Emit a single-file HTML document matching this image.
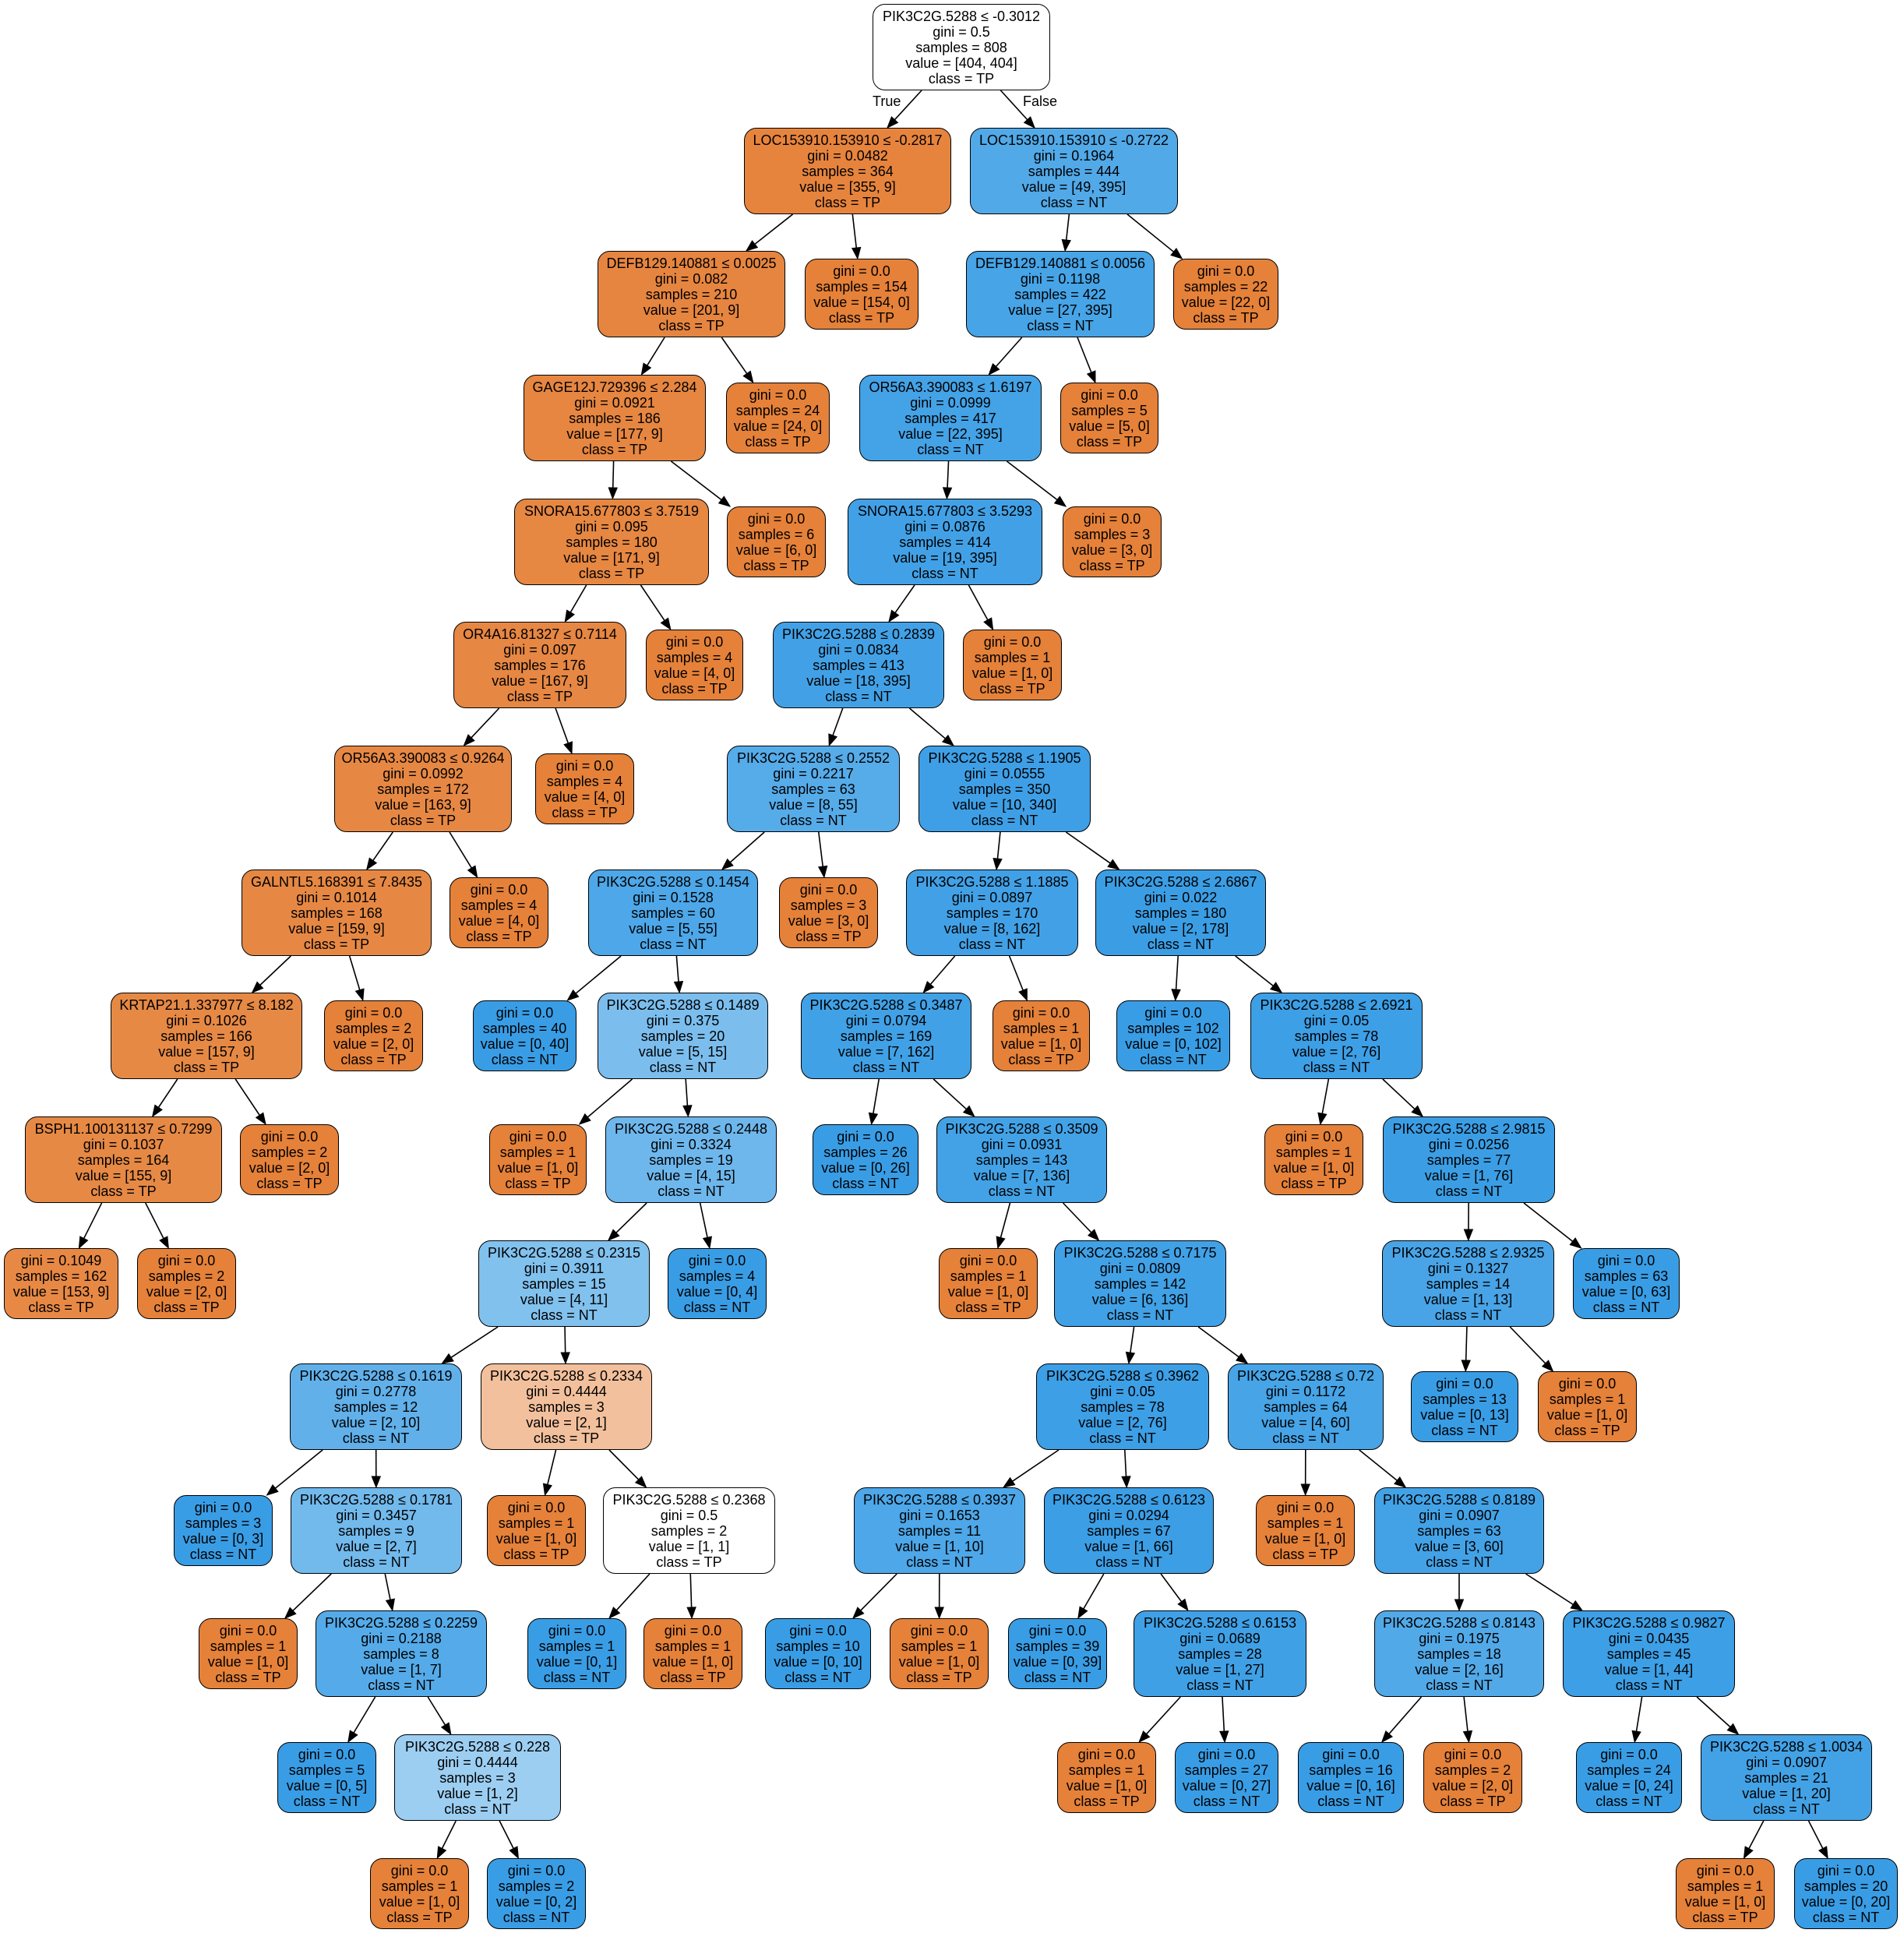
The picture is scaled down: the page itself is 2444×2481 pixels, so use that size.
<!DOCTYPE html>
<html><head><meta charset="utf-8">
<style>
html,body{margin:0;padding:0;background:#fff;}
body{width:2444px;height:2481px;position:relative;overflow:hidden;font-family:"Liberation Sans",Arial,sans-serif;}
.n{position:absolute;box-sizing:border-box;border:1.6px solid #000;border-radius:16px;text-align:center;font-size:18px;line-height:20px;padding-top:5px;color:#000;white-space:nowrap;height:111px;}
.l{height:91px;}
.o{background:#e58139;}
.b{background:#399de5;}
.lab{position:absolute;font-size:18px;line-height:20px;}
svg{position:absolute;left:0;top:0;}
</style></head><body>
<svg id="sv" width="2444" height="2481"></svg>
<div class="lab" style="left:1120px;top:120px">True</div>
<div class="lab" style="left:1313px;top:120px">False</div>

<div class="n" id="r" style="left:1120px;top:5px;width:228px;background:#fff">PIK3C2G.5288 ≤ -0.3012<br>gini = 0.5<br>samples = 808<br>value = [404, 404]<br>class = TP</div>

<div class="n" id="a1" style="left:955px;top:164px;width:266px;background:#e6843e">LOC153910.153910 ≤ -0.2817<br>gini = 0.0482<br>samples = 364<br>value = [355, 9]<br>class = TP</div>
<div class="n" id="b1" style="left:1245px;top:164px;width:267px;background:#52a9e8">LOC153910.153910 ≤ -0.2722<br>gini = 0.1964<br>samples = 444<br>value = [49, 395]<br>class = NT</div>

<div class="n" id="a2" style="left:767px;top:322px;width:241px;background:#e68540">DEFB129.140881 ≤ 0.0025<br>gini = 0.082<br>samples = 210<br>value = [201, 9]<br>class = TP</div>
<div class="n l o" id="a2l" style="left:1033px;top:332px;width:146px">gini = 0.0<br>samples = 154<br>value = [154, 0]<br>class = TP</div>
<div class="n" id="b2" style="left:1240px;top:322px;width:242px;background:#46a4e7">DEFB129.140881 ≤ 0.0056<br>gini = 0.1198<br>samples = 422<br>value = [27, 395]<br>class = NT</div>
<div class="n l o" id="b2l" style="left:1506px;top:332px;width:135px">gini = 0.0<br>samples = 22<br>value = [22, 0]<br>class = TP</div>

<div class="n" id="a3" style="left:672px;top:481px;width:234px;background:#e68641">GAGE12J.729396 ≤ 2.284<br>gini = 0.0921<br>samples = 186<br>value = [177, 9]<br>class = TP</div>
<div class="n l o" id="a3l" style="left:932px;top:491px;width:133px">gini = 0.0<br>samples = 24<br>value = [24, 0]<br>class = TP</div>
<div class="n" id="b3" style="left:1103px;top:481px;width:234px;background:#44a2e6">OR56A3.390083 ≤ 1.6197<br>gini = 0.0999<br>samples = 417<br>value = [22, 395]<br>class = NT</div>
<div class="n l o" id="b3l" style="left:1361px;top:491px;width:126px">gini = 0.0<br>samples = 5<br>value = [5, 0]<br>class = TP</div>

<div class="n" id="a4" style="left:660px;top:640px;width:250px;background:#e68742">SNORA15.677803 ≤ 3.7519<br>gini = 0.095<br>samples = 180<br>value = [171, 9]<br>class = TP</div>
<div class="n l o" id="a4l" style="left:933px;top:650px;width:127px">gini = 0.0<br>samples = 6<br>value = [6, 0]<br>class = TP</div>
<div class="n" id="b4" style="left:1088px;top:640px;width:250px;background:#42a1e6">SNORA15.677803 ≤ 3.5293<br>gini = 0.0876<br>samples = 414<br>value = [19, 395]<br>class = NT</div>
<div class="n l o" id="b4l" style="left:1364px;top:650px;width:127px">gini = 0.0<br>samples = 3<br>value = [3, 0]<br>class = TP</div>

<div class="n" id="a5" style="left:582px;top:798px;width:222px;background:#e68743">OR4A16.81327 ≤ 0.7114<br>gini = 0.097<br>samples = 176<br>value = [167, 9]<br>class = TP</div>
<div class="n l o" id="a5l" style="left:829px;top:808px;width:125px">gini = 0.0<br>samples = 4<br>value = [4, 0]<br>class = TP</div>
<div class="n" id="b5" style="left:992px;top:798px;width:220px;background:#42a1e6">PIK3C2G.5288 ≤ 0.2839<br>gini = 0.0834<br>samples = 413<br>value = [18, 395]<br>class = NT</div>
<div class="n l o" id="b5l" style="left:1236px;top:808px;width:127px">gini = 0.0<br>samples = 1<br>value = [1, 0]<br>class = TP</div>

<div class="n" id="a6" style="left:429px;top:957px;width:228px;background:#e68844">OR56A3.390083 ≤ 0.9264<br>gini = 0.0992<br>samples = 172<br>value = [163, 9]<br>class = TP</div>
<div class="n l o" id="a6l" style="left:687px;top:967px;width:127px">gini = 0.0<br>samples = 4<br>value = [4, 0]<br>class = TP</div>
<div class="n" id="c6" style="left:933px;top:957px;width:222px;background:#56abe9">PIK3C2G.5288 ≤ 0.2552<br>gini = 0.2217<br>samples = 63<br>value = [8, 55]<br>class = NT</div>
<div class="n" id="d6" style="left:1179px;top:957px;width:221px;background:#3e9fe6">PIK3C2G.5288 ≤ 1.1905<br>gini = 0.0555<br>samples = 350<br>value = [10, 340]<br>class = NT</div>

<div class="n" id="a7" style="left:310px;top:1116px;width:244px;background:#e68844">GALNTL5.168391 ≤ 7.8435<br>gini = 0.1014<br>samples = 168<br>value = [159, 9]<br>class = TP</div>
<div class="n l o" id="a7l" style="left:577px;top:1126px;width:127px">gini = 0.0<br>samples = 4<br>value = [4, 0]<br>class = TP</div>
<div class="n" id="c7" style="left:755px;top:1116px;width:218px;background:#4da7e8">PIK3C2G.5288 ≤ 0.1454<br>gini = 0.1528<br>samples = 60<br>value = [5, 55]<br>class = NT</div>
<div class="n l o" id="c7l" style="left:1000px;top:1126px;width:127px">gini = 0.0<br>samples = 3<br>value = [3, 0]<br>class = TP</div>
<div class="n" id="d7" style="left:1163px;top:1116px;width:221px;background:#42a1e6">PIK3C2G.5288 ≤ 1.1885<br>gini = 0.0897<br>samples = 170<br>value = [8, 162]<br>class = NT</div>
<div class="n" id="f7" style="left:1406px;top:1116px;width:219px;background:#3b9ee5">PIK3C2G.5288 ≤ 2.6867<br>gini = 0.022<br>samples = 180<br>value = [2, 178]<br>class = NT</div>

<div class="n" id="a8" style="left:142px;top:1274px;width:246px;background:#e68945">KRTAP21.1.337977 ≤ 8.182<br>gini = 0.1026<br>samples = 166<br>value = [157, 9]<br>class = TP</div>
<div class="n l o" id="a8l" style="left:416px;top:1284px;width:127px">gini = 0.0<br>samples = 2<br>value = [2, 0]<br>class = TP</div>
<div class="n l b" id="c8l" style="left:607px;top:1284px;width:133px">gini = 0.0<br>samples = 40<br>value = [0, 40]<br>class = NT</div>
<div class="n" id="c8" style="left:767px;top:1274px;width:219px;background:#7bbeee">PIK3C2G.5288 ≤ 0.1489<br>gini = 0.375<br>samples = 20<br>value = [5, 15]<br>class = NT</div>
<div class="n" id="d8" style="left:1028px;top:1274px;width:219px;background:#41a1e6">PIK3C2G.5288 ≤ 0.3487<br>gini = 0.0794<br>samples = 169<br>value = [7, 162]<br>class = NT</div>
<div class="n l o" id="d8l" style="left:1274px;top:1284px;width:125px">gini = 0.0<br>samples = 1<br>value = [1, 0]<br>class = TP</div>
<div class="n l b" id="f8l" style="left:1433px;top:1284px;width:146px">gini = 0.0<br>samples = 102<br>value = [0, 102]<br>class = NT</div>
<div class="n" id="f8" style="left:1605px;top:1274px;width:221px;background:#3d9fe6">PIK3C2G.5288 ≤ 2.6921<br>gini = 0.05<br>samples = 78<br>value = [2, 76]<br>class = NT</div>

<div class="n" id="a9" style="left:32px;top:1433px;width:253px;background:#e68945">BSPH1.100131137 ≤ 0.7299<br>gini = 0.1037<br>samples = 164<br>value = [155, 9]<br>class = TP</div>
<div class="n l o" id="a9l" style="left:308px;top:1443px;width:127px">gini = 0.0<br>samples = 2<br>value = [2, 0]<br>class = TP</div>
<div class="n l o" id="c9l" style="left:628px;top:1443px;width:125px">gini = 0.0<br>samples = 1<br>value = [1, 0]<br>class = TP</div>
<div class="n" id="c9" style="left:777px;top:1433px;width:220px;background:#6eb7ec">PIK3C2G.5288 ≤ 0.2448<br>gini = 0.3324<br>samples = 19<br>value = [4, 15]<br>class = NT</div>
<div class="n l b" id="d9l" style="left:1043px;top:1443px;width:136px">gini = 0.0<br>samples = 26<br>value = [0, 26]<br>class = NT</div>
<div class="n" id="d9" style="left:1202px;top:1433px;width:219px;background:#43a2e6">PIK3C2G.5288 ≤ 0.3509<br>gini = 0.0931<br>samples = 143<br>value = [7, 136]<br>class = NT</div>
<div class="n l o" id="f9l" style="left:1623px;top:1443px;width:127px">gini = 0.0<br>samples = 1<br>value = [1, 0]<br>class = TP</div>
<div class="n" id="f9" style="left:1775px;top:1433px;width:221px;background:#3b9ee5">PIK3C2G.5288 ≤ 2.9815<br>gini = 0.0256<br>samples = 77<br>value = [1, 76]<br>class = NT</div>

<div class="n l" id="a10a" style="left:5px;top:1602px;width:147px;background:#e78945">gini = 0.1049<br>samples = 162<br>value = [153, 9]<br>class = TP</div>
<div class="n l o" id="a10b" style="left:176px;top:1602px;width:127px">gini = 0.0<br>samples = 2<br>value = [2, 0]<br>class = TP</div>
<div class="n" id="c10" style="left:614px;top:1592px;width:220px;background:#81c1ee">PIK3C2G.5288 ≤ 0.2315<br>gini = 0.3911<br>samples = 15<br>value = [4, 11]<br>class = NT</div>
<div class="n l b" id="c10l" style="left:857px;top:1602px;width:127px">gini = 0.0<br>samples = 4<br>value = [0, 4]<br>class = NT</div>
<div class="n l o" id="d10l" style="left:1205px;top:1602px;width:127px">gini = 0.0<br>samples = 1<br>value = [1, 0]<br>class = TP</div>
<div class="n" id="d10" style="left:1353px;top:1592px;width:221px;background:#41a1e6">PIK3C2G.5288 ≤ 0.7175<br>gini = 0.0809<br>samples = 142<br>value = [6, 136]<br>class = NT</div>
<div class="n" id="f10" style="left:1774px;top:1592px;width:221px;background:#48a4e7">PIK3C2G.5288 ≤ 2.9325<br>gini = 0.1327<br>samples = 14<br>value = [1, 13]<br>class = NT</div>
<div class="n l b" id="f10l" style="left:2019px;top:1602px;width:137px">gini = 0.0<br>samples = 63<br>value = [0, 63]<br>class = NT</div>

<div class="n" id="c11" style="left:372px;top:1750px;width:221px;background:#61b0ea">PIK3C2G.5288 ≤ 0.1619<br>gini = 0.2778<br>samples = 12<br>value = [2, 10]<br>class = NT</div>
<div class="n" id="e11" style="left:617px;top:1750px;width:220px;background:#f2c09c">PIK3C2G.5288 ≤ 0.2334<br>gini = 0.4444<br>samples = 3<br>value = [2, 1]<br>class = TP</div>
<div class="n" id="d11" style="left:1330px;top:1750px;width:222px;background:#3d9fe6">PIK3C2G.5288 ≤ 0.3962<br>gini = 0.05<br>samples = 78<br>value = [2, 76]<br>class = NT</div>
<div class="n" id="g11" style="left:1576px;top:1750px;width:200px;background:#46a4e7">PIK3C2G.5288 ≤ 0.72<br>gini = 0.1172<br>samples = 64<br>value = [4, 60]<br>class = NT</div>
<div class="n l b" id="f11a" style="left:1811px;top:1760px;width:138px">gini = 0.0<br>samples = 13<br>value = [0, 13]<br>class = NT</div>
<div class="n l o" id="f11b" style="left:1974px;top:1760px;width:127px">gini = 0.0<br>samples = 1<br>value = [1, 0]<br>class = TP</div>

<div class="n l b" id="c12l" style="left:223px;top:1919px;width:127px">gini = 0.0<br>samples = 3<br>value = [0, 3]<br>class = NT</div>
<div class="n" id="c12" style="left:373px;top:1909px;width:220px;background:#72b9ec">PIK3C2G.5288 ≤ 0.1781<br>gini = 0.3457<br>samples = 9<br>value = [2, 7]<br>class = NT</div>
<div class="n l o" id="e12l" style="left:625px;top:1919px;width:127px">gini = 0.0<br>samples = 1<br>value = [1, 0]<br>class = TP</div>
<div class="n" id="e12" style="left:774px;top:1909px;width:221px;background:#fff">PIK3C2G.5288 ≤ 0.2368<br>gini = 0.5<br>samples = 2<br>value = [1, 1]<br>class = TP</div>
<div class="n" id="d12" style="left:1096px;top:1909px;width:220px;background:#4da7e8">PIK3C2G.5288 ≤ 0.3937<br>gini = 0.1653<br>samples = 11<br>value = [1, 10]<br>class = NT</div>
<div class="n" id="h12" style="left:1340px;top:1909px;width:218px;background:#3c9ee5">PIK3C2G.5288 ≤ 0.6123<br>gini = 0.0294<br>samples = 67<br>value = [1, 66]<br>class = NT</div>
<div class="n l o" id="g12l" style="left:1612px;top:1919px;width:127px">gini = 0.0<br>samples = 1<br>value = [1, 0]<br>class = TP</div>
<div class="n" id="g12" style="left:1764px;top:1909px;width:218px;background:#43a2e6">PIK3C2G.5288 ≤ 0.8189<br>gini = 0.0907<br>samples = 63<br>value = [3, 60]<br>class = NT</div>

<div class="n l o" id="c13l" style="left:255px;top:2077px;width:127px">gini = 0.0<br>samples = 1<br>value = [1, 0]<br>class = TP</div>
<div class="n" id="c13" style="left:405px;top:2067px;width:220px;background:#55abe9">PIK3C2G.5288 ≤ 0.2259<br>gini = 0.2188<br>samples = 8<br>value = [1, 7]<br>class = NT</div>
<div class="n l b" id="e13a" style="left:677px;top:2077px;width:127px">gini = 0.0<br>samples = 1<br>value = [0, 1]<br>class = NT</div>
<div class="n l o" id="e13b" style="left:826px;top:2077px;width:127px">gini = 0.0<br>samples = 1<br>value = [1, 0]<br>class = TP</div>
<div class="n l b" id="d13a" style="left:982px;top:2077px;width:136px">gini = 0.0<br>samples = 10<br>value = [0, 10]<br>class = NT</div>
<div class="n l o" id="d13b" style="left:1142px;top:2077px;width:127px">gini = 0.0<br>samples = 1<br>value = [1, 0]<br>class = TP</div>
<div class="n l b" id="h13l" style="left:1294px;top:2077px;width:127px">gini = 0.0<br>samples = 39<br>value = [0, 39]<br>class = NT</div>
<div class="n" id="h13" style="left:1455px;top:2067px;width:222px;background:#40a0e6">PIK3C2G.5288 ≤ 0.6153<br>gini = 0.0689<br>samples = 28<br>value = [1, 27]<br>class = NT</div>
<div class="n" id="g13" style="left:1764px;top:2067px;width:218px;background:#52a9e8">PIK3C2G.5288 ≤ 0.8143<br>gini = 0.1975<br>samples = 18<br>value = [2, 16]<br>class = NT</div>
<div class="n" id="i13" style="left:2006px;top:2067px;width:221px;background:#3d9fe6">PIK3C2G.5288 ≤ 0.9827<br>gini = 0.0435<br>samples = 45<br>value = [1, 44]<br>class = NT</div>

<div class="n l b" id="c14l" style="left:356px;top:2236px;width:127px">gini = 0.0<br>samples = 5<br>value = [0, 5]<br>class = NT</div>
<div class="n" id="c14" style="left:506px;top:2226px;width:214px;background:#9ccef2">PIK3C2G.5288 ≤ 0.228<br>gini = 0.4444<br>samples = 3<br>value = [1, 2]<br>class = NT</div>
<div class="n l o" id="h14a" style="left:1357px;top:2236px;width:127px">gini = 0.0<br>samples = 1<br>value = [1, 0]<br>class = TP</div>
<div class="n l b" id="h14b" style="left:1508px;top:2236px;width:133px">gini = 0.0<br>samples = 27<br>value = [0, 27]<br>class = NT</div>
<div class="n l b" id="g14a" style="left:1666px;top:2236px;width:136px">gini = 0.0<br>samples = 16<br>value = [0, 16]<br>class = NT</div>
<div class="n l o" id="g14b" style="left:1827px;top:2236px;width:127px">gini = 0.0<br>samples = 2<br>value = [2, 0]<br>class = TP</div>
<div class="n l b" id="i14l" style="left:2023px;top:2236px;width:136px">gini = 0.0<br>samples = 24<br>value = [0, 24]<br>class = NT</div>
<div class="n" id="i14" style="left:2183px;top:2226px;width:220px;background:#43a2e6">PIK3C2G.5288 ≤ 1.0034<br>gini = 0.0907<br>samples = 21<br>value = [1, 20]<br>class = NT</div>

<div class="n l o" id="c15a" style="left:475px;top:2385px;width:127px">gini = 0.0<br>samples = 1<br>value = [1, 0]<br>class = TP</div>
<div class="n l b" id="c15b" style="left:625px;top:2385px;width:127px">gini = 0.0<br>samples = 2<br>value = [0, 2]<br>class = NT</div>
<div class="n l o" id="i15a" style="left:2151px;top:2385px;width:127px">gini = 0.0<br>samples = 1<br>value = [1, 0]<br>class = TP</div>
<div class="n l b" id="i15b" style="left:2303px;top:2385px;width:133px">gini = 0.0<br>samples = 20<br>value = [0, 20]<br>class = NT</div>

<script>
var E=[["r","a1"],["r","b1"],["a1","a2"],["a1","a2l"],["a2","a3"],["a2","a3l"],["a3","a4"],["a3","a4l"],["a4","a5"],["a4","a5l"],["a5","a6"],["a5","a6l"],["a6","a7"],["a6","a7l"],["a7","a8"],["a7","a8l"],["a8","a9"],["a8","a9l"],["a9","a10a"],["a9","a10b"],
["b1","b2"],["b1","b2l"],["b2","b3"],["b2","b3l"],["b3","b4"],["b3","b4l"],["b4","b5"],["b4","b5l"],["b5","c6"],["b5","d6"],
["c6","c7"],["c6","c7l"],["c7","c8l"],["c7","c8"],["c8","c9l"],["c8","c9"],["c9","c10"],["c9","c10l"],["c10","c11"],["c10","e11"],
["c11","c12l"],["c11","c12"],["c12","c13l"],["c12","c13"],["c13","c14l"],["c13","c14"],["c14","c15a"],["c14","c15b"],["e11","e12l"],["e11","e12"],["e12","e13a"],["e12","e13b"],
["d6","d7"],["d6","f7"],["d7","d8"],["d7","d8l"],["d8","d9l"],["d8","d9"],["d9","d10l"],["d9","d10"],["d10","d11"],["d10","g11"],["d11","d12"],["d11","h12"],["d12","d13a"],["d12","d13b"],["h12","h13l"],["h12","h13"],["h13","h14a"],["h13","h14b"],
["g11","g12l"],["g11","g12"],["g12","g13"],["g12","i13"],["g13","g14a"],["g13","g14b"],["i13","i14l"],["i13","i14"],["i14","i15a"],["i14","i15b"],
["f7","f8l"],["f7","f8"],["f8","f9l"],["f8","f9"],["f9","f10"],["f9","f10l"],["f10","f11a"],["f10","f11b"]];
var s="";
function R(id){var e=document.getElementById(id);return {x:e.offsetLeft,y:e.offsetTop,w:e.offsetWidth,h:e.offsetHeight};}
E.forEach(function(p){var a=R(p[0]),b=R(p[1]);
var px=a.x+a.w/2,py=a.y+a.h/2,cx=b.x+b.w/2,cy=b.y+b.h/2;
var y0=a.y+a.h,y1=b.y;
var x0=px+(cx-px)*(y0-py)/(cy-py),x1=px+(cx-px)*(y1-py)/(cy-py);
var dx=x1-x0,dy=y1-y0,L=Math.sqrt(dx*dx+dy*dy),ux=dx/L,uy=dy/L;
var al=14,aw=5.5;var bx=x1-ux*al,by=y1-uy*al;
s+='<line x1="'+x0+'" y1="'+y0+'" x2="'+bx+'" y2="'+by+'" stroke="#000" stroke-width="1.6"/>';
s+='<polygon points="'+x1+','+y1+' '+(bx-uy*aw)+','+(by+ux*aw)+' '+(bx+uy*aw)+','+(by-ux*aw)+'" fill="#000" stroke="#000" stroke-width="1"/>';});
document.getElementById("sv").innerHTML=s;
</script>
</body></html>
